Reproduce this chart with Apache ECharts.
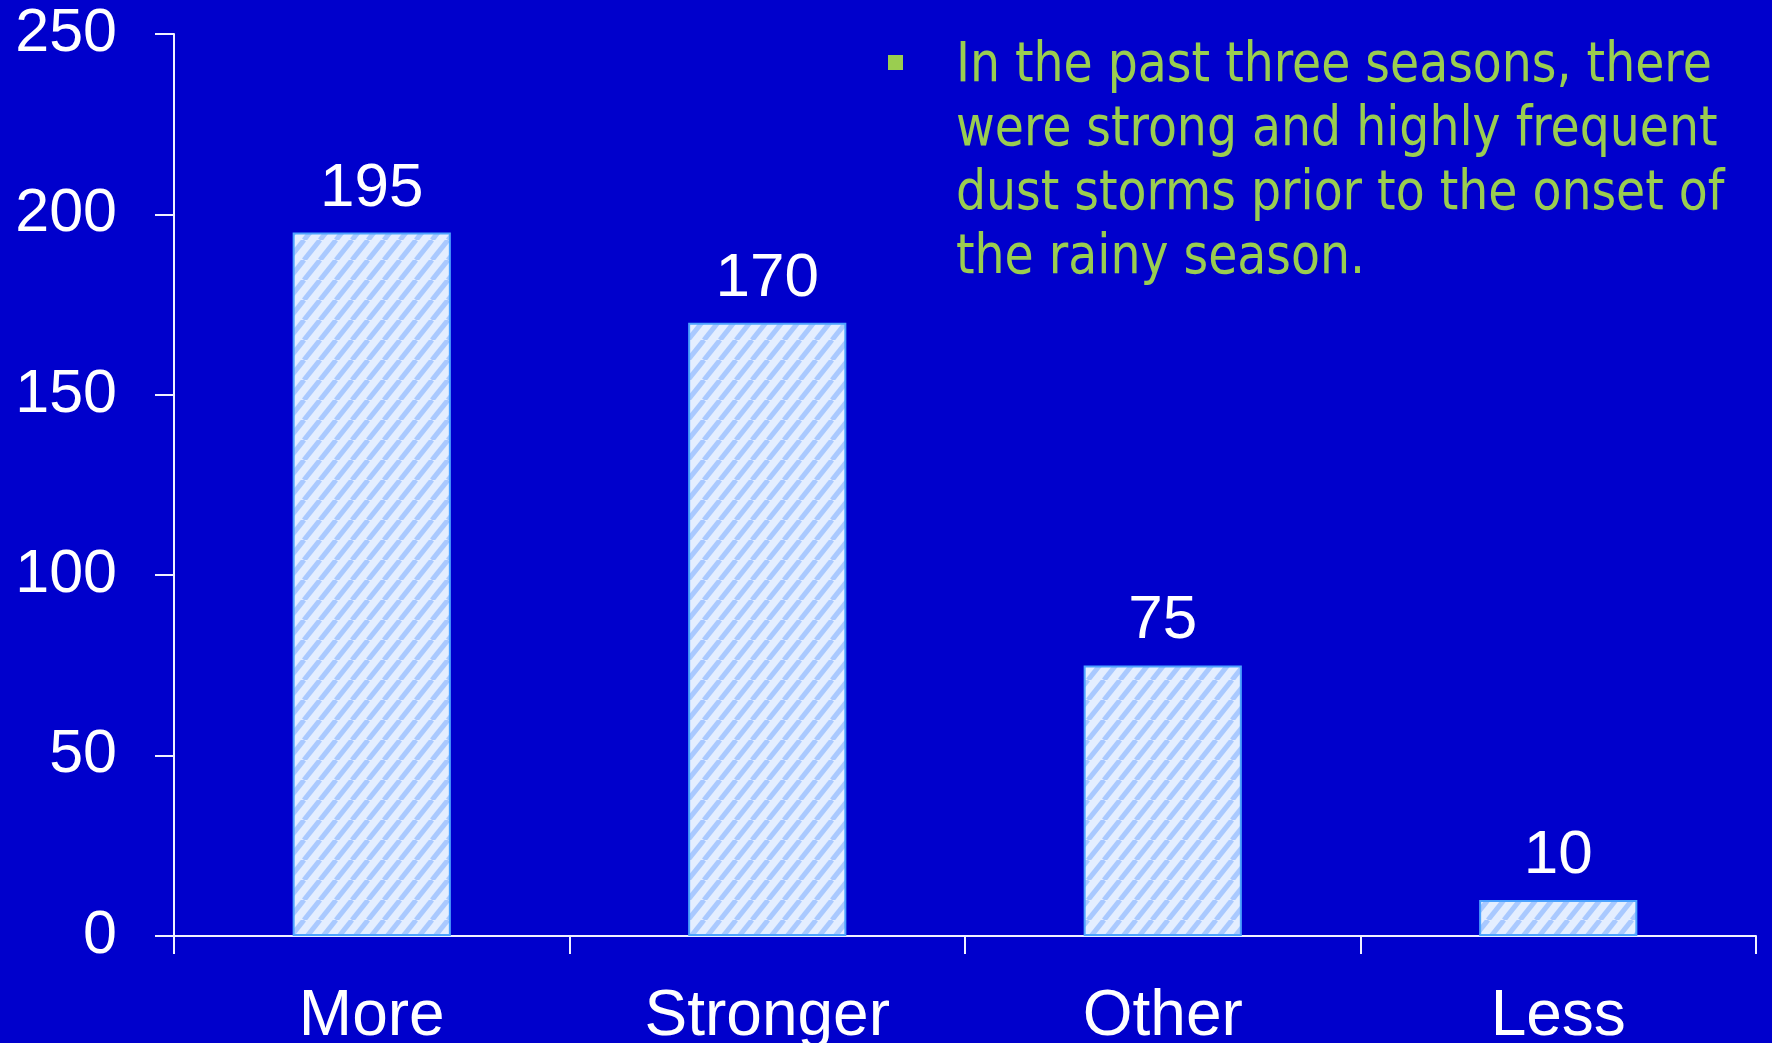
<!DOCTYPE html>
<html>
<head>
<meta charset="utf-8">
<script src="https://cdn.jsdelivr.net/npm/echarts@6/dist/echarts.min.js"></script>
<style>
  html, body { margin: 0; padding: 0; background: #0000cc; }
  #chart { width: 1772px; height: 1043px; }
</style>
</head>
<body>
<div id="chart"></div>
<script>
// Responses about dust storms before the rainy season
const categories = ['More', 'Stronger', 'Other', 'Less'];
const counts = [195, 170, 75, 10];
const noteLines = [
  'In the past three seasons, there',
  'were strong and highly frequent',
  'dust storms prior to the onset of',
  'the rainy season.'
];

// Light diagonal-hatch tile used as the bar fill
function makeHatch() {
  const W = 16, H = 20;
  const c = document.createElement('canvas');
  c.width = W; c.height = H;
  const g = c.getContext('2d');
  g.fillStyle = '#e4eeff';
  g.fillRect(0, 0, W, H);
  g.strokeStyle = '#a9c9ff';
  g.lineWidth = 5;
  for (let k = -1; k <= 1; k++) {
    g.beginPath();
    g.moveTo(k * W, H);
    g.lineTo(k * W + W, 0);
    g.stroke();
  }
  return c;
}

const chart = echarts.init(document.getElementById('chart'));
const axisColor = '#f0f0ff';
const labelFont = 'Liberation Sans, Arial, sans-serif';

chart.setOption({
  backgroundColor: '#0000cc',
  animation: false,
  grid: {
    left: 174, right: 16, top: 34, bottom: 107,
    containLabel: false,
    outerBoundsMode: 'none'
  },
  xAxis: {
    type: 'category',
    data: categories,
    axisLine: { lineStyle: { color: axisColor, width: 2 } },
    axisTick: { show: true, length: 18, lineStyle: { color: axisColor, width: 2 } },
    axisLabel: { color: '#ffffff', fontSize: 64, fontFamily: labelFont, margin: 49 },
    splitLine: { show: false }
  },
  yAxis: {
    type: 'value',
    min: 0, max: 250, interval: 50,
    axisLine: { show: true, lineStyle: { color: axisColor, width: 2 } },
    axisTick: { show: true, length: 19, lineStyle: { color: axisColor, width: 2 } },
    axisLabel: { color: '#ffffff', fontSize: 61, fontFamily: labelFont, margin: 57 },
    splitLine: { show: false }
  },
  series: [{
    type: 'bar',
    data: counts,
    barWidth: '40%',
    itemStyle: {
      color: { image: makeHatch(), repeat: 'repeat' },
      borderColor: '#4da3ff',
      borderWidth: 2
    },
    label: {
      show: true,
      position: 'top',
      distance: 13,
      color: '#ffffff',
      fontSize: 62,
      fontFamily: labelFont
    }
  }],
  graphic: [
    {
      type: 'rect',
      shape: { x: 888, y: 55, width: 15, height: 15 },
      style: { fill: '#9acd50' }
    },
    {
      type: 'text',
      x: 956,
      y: 34,
      scaleX: 0.94,
      style: {
        text: noteLines.join('\n'),
        fill: '#9acd50',
        font: '56px "DejaVu Sans Condensed", "DejaVu Sans", sans-serif',
        lineHeight: 64,
        verticalAlign: 'top',
        align: 'left'
      }
    }
  ]
});
</script>
</body>
</html>
